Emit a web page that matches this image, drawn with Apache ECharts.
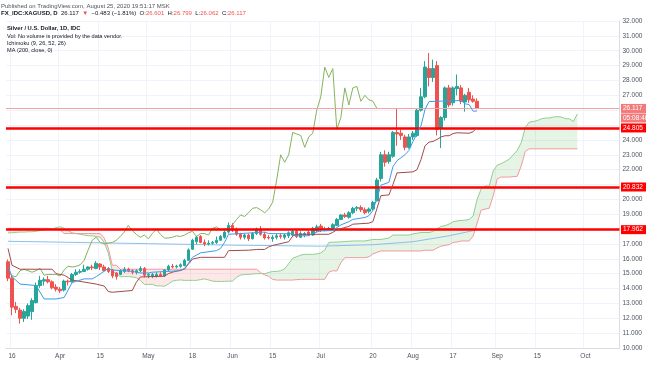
<!DOCTYPE html>
<html><head><meta charset="utf-8">
<script src="https://cdn.jsdelivr.net/npm/echarts@6/dist/echarts.min.js"></script>
<style>html,body{margin:0;padding:0;background:#fff;overflow:hidden}#c{width:654px;height:366px}</style>
</head><body><div id="c"></div>
<script>
// ---------- categories (trading days, 2020) ----------
const tradingDays = [
  ['03',[13,16,17,18,19,20,23,24,25,26,27,30,31]],
  ['04',[1,2,3,6,7,8,9,10,13,14,15,16,17,20,21,22,23,24,27,28,29,30]],
  ['05',[1,4,5,6,7,8,11,12,13,14,15,18,19,20,21,22,25,26,27,28,29]],
  ['06',[1,2,3,4,5,8,9,10,11,12,15,16,17,18,19,22,23,24,25,26,29,30]],
  ['07',[1,2,3,6,7,8,9,10,13,14,15,16,17,20,21,22,23,24,27,28,29,30,31]],
  ['08',[3,4,5,6,7,10,11,12,13,14,17,18,19,20,21,24,25,26,27,28,31]],
  ['09',[1,2,3,4,7,8,9,10,11,14,15,16,17,18,21,22,23,24,25,28,29,30]],
  ['10',[1,2,5,6,7,8,9,12,13]]
];
const xTicks = [['03-16','16'],['04-01','Apr'],['04-15','15'],['05-01','May'],['05-18','18'],['06-01','Jun'],['06-15','15'],['07-01','Jul'],['07-20','20'],['08-03','Aug'],['08-17','17'],['09-01','Sep'],['09-15','15'],['10-01','Oct']];
const yMin = 10, yMax = 32, yStep = 1;
const yHiddenLabels = [18, 21, 25, 26];

// ---------- OHLC from 13 Mar to 25 Aug ----------
const opens = [15.8,
 14.7,12.8,12.55,12.0,12.15, 12.45,13.05,14.2,14.5,14.6, 14.45,14.1,13.95,13.9,14.5, 14.45,14.95,15.1,15.15,15.3,
 15.45,15.35,15.65,15.45,15.35, 15.25,15.05,14.95,15.15,15.3, 15.2,15.1,15.2,15.35,14.9, 14.85,14.8,14.95,14.85,15.25,
 15.5,15.45,15.5,15.55,15.9, 16.65,17.15,17.5,17.1,17.0, 17.05,17.1,17.25,17.45,17.8, 18.25,17.95,17.65,17.45,17.6,
 17.35,17.7,18.0,17.65,17.45, 17.35,17.45,17.55,17.45,17.55, 17.6,17.85,17.45,17.6,17.8, 17.6,17.9,18.2,17.95,18.0,
 18.05,18.25,18.65,18.95,18.8, 19.1,19.4,19.45,19.3,19.2, 19.35,19.9,21.4,23.0,22.55, 22.9,24.5,24.45,24.2,23.5,
 24.2,24.3,26.0,26.9,28.8, 28.2,29.0,24.8,25.5,27.5, 26.5,27.45,27.5,26.55,27.2, 26.75,26.601];
const highs = [15.95,
 14.85,13.1,12.7,12.6,13.0, 13.35,14.4,14.85,14.75,14.85, 14.55,14.3,14.1,14.6,14.6, 15.05,15.3,15.3,15.6,15.5,
 15.6,15.85,15.7,15.6,15.45, 15.3,15.1,15.3,15.45,15.4, 15.3,15.3,15.5,15.45,15.05, 15.05,15.1,15.1,15.3,15.6,
 15.65,15.6,15.7,16.0,16.7, 17.35,17.55,17.6,17.3,17.25, 17.2,17.5,17.6,17.9,18.45, 18.4,18.1,17.75,17.7,17.7,
 17.8,18.1,18.2,17.8,17.6, 17.6,17.7,17.7,17.7,17.85, 17.95,17.95,17.85,17.8,17.9, 18.15,18.3,18.35,18.15,18.15,
 18.4,18.75,19.0,19.1,19.2, 19.5,19.55,19.6,19.45,19.45, 19.9,21.45,23.2,23.3,23.2, 24.6,26.15,24.7,24.35,24.4,
 24.6,26.15,27.5,29.3,29.85, 29.4,29.3,25.6,27.6,27.7, 27.6,28.4,27.7,27.1,27.5, 27.0,26.799];
const lows = [14.5,
 12.2,12.35,11.64,11.75,11.95, 11.9,13.0,14.05,14.2,14.35, 13.95,13.8,13.7,13.8,14.2, 14.4,14.85,15.0,15.1,15.2,
 15.25,15.3,15.25,15.2,15.05, 14.7,14.6,14.9,15.05,15.1, 14.95,14.95,15.1,14.75,14.7, 14.7,14.75,14.8,14.8,15.15,
 15.35,15.35,15.4,15.5,15.85, 16.6,17.0,17.05,16.85,16.9, 16.95,17.0,17.2,17.35,17.7, 17.8,17.55,17.3,17.3,17.2,
 17.3,17.6,17.55,17.3,17.3, 17.15,17.3,17.35,17.3,17.4, 17.5,17.4,17.4,17.45,17.55, 17.55,17.8,17.8,17.85,17.9,
 17.95,18.2,18.6,18.75,18.7, 19.0,19.2,19.15,19.0,19.05, 19.25,19.85,21.2,22.2,22.4, 22.8,23.6,24.0,23.3,23.4,
 24.0,24.2,25.9,26.8,27.6, 27.9,24.3,23.45,25.3,26.2, 26.3,27.0,26.4,25.9,26.5, 26.5,26.062];
const closes = [14.7,
 12.75,12.6,12.0,12.45,12.85, 13.2,14.2,14.55,14.6,14.45, 14.05,13.95,13.85,14.5,14.45, 14.95,15.1,15.15,15.3,15.45,
 15.4,15.7,15.45,15.2,15.15, 14.85,14.8,15.2,15.3,15.2, 15.1,15.2,15.35,14.9,14.95, 14.95,14.95,14.85,15.25,15.5,
 15.45,15.5,15.6,15.9,16.6, 17.25,17.45,17.1,17.0,17.05, 17.1,17.25,17.5,17.8,18.25, 17.9,17.65,17.45,17.6,17.35,
 17.7,18.0,17.65,17.4,17.4, 17.45,17.55,17.5,17.6,17.75, 17.85,17.5,17.7,17.7,17.6, 18.05,18.15,17.95,18.0,18.05,
 18.3,18.65,18.95,18.85,19.1, 19.4,19.45,19.3,19.1,19.35, 19.8,21.3,23.0,22.5,23.0, 24.5,24.4,24.3,23.5,24.2,
 24.45,26.0,26.9,28.9,28.2, 28.8,24.7,25.5,27.5,26.35, 27.5,27.6,26.6,27.0,26.7, 26.6,26.117];

// ---------- Ichimoku (9, 26, 52, 26) and MA 200 ----------
const tenkan = [['03-13',15.5],['03-16',14.8],['03-18',14.3],['03-24',14.2],['03-26',13.3],['03-31',13.3],['04-02',13.4],['04-03',13.9],['04-06',14.4],['04-09',14.65],['04-13',14.65],['04-14',14.8],['04-17',15.35],['04-20',15.25],['04-27',15.15],['04-29',15.05],['05-01',15.05],['05-04',15.1],['05-13',15.2],['05-14',15.35],['05-15',15.7],['05-18',16.1],['05-20',16.4],['05-26',16.55],['05-27',16.7],['05-28',17.1],['05-29',17.65],['06-11',17.8],['06-12',17.7],['06-22',17.68],['06-23',17.55],['06-26',17.55],['06-29',17.72],['07-01',17.88],['07-06',17.9],['07-07',18.1],['07-08',18.28],['07-10',18.5],['07-13',18.65],['07-16',18.78],['07-17',18.9],['07-20',19.25],['07-21',20.08],['07-22',20.95],['07-24',21.15],['07-27',22.2],['07-28',22.6],['07-30',23.0],['07-31',23.3],['08-03',23.9],['08-04',24.4],['08-05',24.95],['08-06',26.05],['08-07',26.58],['08-19',26.65],['08-20',26.43],['08-21',26.38],['08-24',25.93],['08-25',25.95]];
const kijun = [['03-13',16.7],['03-16',15.57],['03-18',15.3],['03-30',15.3],['03-31',15.0],['04-02',14.9],['04-06',14.57],['04-14',14.3],['04-16',14.17],['04-17',13.8],['04-20',13.75],['04-27',13.87],['04-28',14.42],['04-29',14.78],['05-07',14.83],['05-08',15.0],['05-11',15.1],['05-14',15.3],['05-15',15.65],['05-18',15.98],['05-20',16.1],['05-28',16.1],['05-29',16.55],['06-05',16.58],['06-09',16.63],['06-11',16.63],['06-12',16.8],['06-15',16.9],['06-19',17.15],['06-22',17.53],['06-23',17.65],['07-03',17.65],['07-06',17.78],['07-07',17.95],['07-10',18.18],['07-13',18.33],['07-17',18.4],['07-20',18.5],['07-21',19.38],['07-22',20.25],['07-24',20.3],['07-27',21.0],['07-28',21.78],['08-03',21.85],['08-04',22.0],['08-05',22.68],['08-06',23.6],['08-07',23.85],['08-10',23.9],['08-11',24.03],['08-12',24.2],['08-13',24.28],['08-14',24.28],['08-17',24.43],['08-18',24.48],['08-21',24.45],['08-24',24.55],['08-25',24.85]];
// lagging span, from 13 Mar onward
const chikou = [15.15,
 14.85,14.8,15.2,15.3,15.2, 15.1,15.2,15.35,14.9,14.95, 14.95,14.95,14.85,15.25,15.5, 15.45,15.5,15.6,15.9,16.6,
 17.25,17.45,17.1,17.0,17.05, 17.1,17.25,17.5,17.8,18.25, 17.9,17.65,17.45,17.6,17.35, 17.7,18.0,17.65,17.4,17.4,
 17.45,17.55,17.5,17.6,17.75, 17.85,17.5,17.7,17.7,17.6, 18.05,18.15,17.95,18.0,18.05, 18.3,18.65,18.95,18.85,19.1,
 19.4,19.45,19.3,19.1,19.35, 19.8,21.3,23.0,22.5,23.0, 24.5,24.4,24.3,23.5,24.2, 24.45,26.0,26.9,28.9,28.2,
 28.8,24.7,25.5,27.5,26.35, 27.5,27.6,26.6,27.0,26.7, 26.6,26.117];
// leading spans, from 13 Mar onward (one value per bar)
const spanA = [17.75,
 17.75,17.78,17.8,17.8,17.82, 17.82,17.85,17.9,17.95,17.98, 18.0,18.1,18.15,18.05,17.9, 17.75,17.7,17.65,17.6,17.55,
 17.55,17.5,17.45,17.1,16.4, 15.2,15.0,14.8,14.8,14.8, 14.78,14.73,14.55,14.28,14.28, 14.28,14.18,14.18,14.15,14.3,
 14.5,14.55,14.58,14.55,14.55, 14.55,14.55,14.6,14.65,14.58, 14.5,14.48,14.48,14.48,14.5, 14.5,14.76,14.9,14.95,14.95,
 14.98,15.0,15.0,15.0,15.08, 15.15,15.15,15.2,15.33,15.68, 16.04,16.14,16.25,16.3,16.3, 16.3,16.33,16.4,16.6,17.1,
 17.12,17.13,17.14,17.16,17.18, 17.2,17.2,17.2,17.2,17.25, 17.3,17.3,17.3,17.35,17.4, 17.6,17.6,17.6,17.6,17.6,
 17.68,17.72,17.77,17.77,17.77, 17.84,18.03,18.18,18.23,18.34, 18.49,18.55,18.58,18.6,18.65, 18.88,20.0,20.7,20.9,20.9,
 21.9,22.3,22.4,22.55,22.7, 23.0,23.3,23.82,24.83,25.2, 25.24,25.3,25.42,25.47,25.47, 25.54,25.57,25.54,25.43,25.42,
 25.24,25.75];
const spanB = [18.05,
 18.05,18.05,18.05,18.05,18.05, 18.05,18.05,18.05,18.05,18.05, 18.0,18.0,17.95,17.7,17.7, 17.7,17.7,17.7,17.7,17.7,
 17.7,17.7,17.7,17.4,16.73, 15.57,15.57,15.3,15.3,15.3, 15.3,15.3,15.3,15.3,15.3, 15.3,15.3,15.3,15.3,15.3,
 15.3,15.3,15.3,15.3,15.3, 15.3,15.3,15.3,15.3,15.3, 15.3,15.3,15.3,15.3,15.3, 15.3,15.3,15.3,15.3,15.3,
 15.3,15.3,15.07,14.92,14.82, 14.62,14.57,14.57,14.57,14.57, 14.57,14.6,14.62,14.62,14.62, 14.62,14.62,14.62,14.62,15.1,
 15.2,15.18,15.73,16.08,16.08, 16.08,16.08,16.08,16.08,16.13, 16.33,16.43,16.53,16.53,16.53, 16.53,16.53,16.53,16.53,16.53,
 16.53,16.53,16.53,16.58,16.58, 16.58,16.73,16.85,16.9,16.95, 17.1,17.13,17.2,17.2,17.2, 17.53,18.4,19.28,19.35,19.4,
 20.23,21.38,21.5,21.5,21.5, 21.53,21.55,22.25,23.23,23.4, 23.4,23.4,23.4,23.4,23.4, 23.4,23.4,23.4,23.4,23.4,
 23.4,23.4];
const ma200 = [['03-13',17.18],['04-01',17.12],['05-01',17.02],['06-01',16.92],['07-01',16.85],['07-20',16.95],['08-03',17.15],['08-14',17.55],['08-25',17.95]];

// horizontal levels and last price
const levels = [24.805, 20.832, 17.962];
const lastPrice = 26.117;
const countdown = '05:08:46';

// ---------- build ----------
const cats = [];
tradingDays.forEach(([m, ds]) => ds.forEach(d => cats.push('2020-' + m + '-' + String(d).padStart(2, '0'))));
const tickMap = {};
xTicks.forEach(([d, l]) => { tickMap['2020-' + d] = l; });
const pair = arr => arr.map(([d, v]) => ['2020-' + d, v]);
const candleData = opens.map((o, k) => [o, closes[k], lows[k], highs[k]]);
const cloudData = [];
for (let k = 0; k < spanA.length - 1; k++) cloudData.push([k, spanA[k], spanB[k], spanA[k + 1], spanB[k + 1]]);

const FONT = '"Liberation Sans", Arial, sans-serif';
const G = 'rgba(76,175,80,0.14)', R = 'rgba(244,67,54,0.12)';

function cloudItem(params, api) {
  const k = api.value(0), a0 = api.value(1), b0 = api.value(2), a1 = api.value(3), b1 = api.value(4);
  const pa0 = api.coord([k, a0]), pb0 = api.coord([k, b0]), pa1 = api.coord([k + 1, a1]), pb1 = api.coord([k + 1, b1]);
  const d0 = a0 - b0, d1 = a1 - b1;
  if (d0 * d1 >= 0) {
    return { type: 'polygon', shape: { points: [pa0, pa1, pb1, pb0] }, style: { fill: (d0 + d1) >= 0 ? G : R } };
  }
  const t = d0 / (d0 - d1);
  const px = pa0[0] + (pa1[0] - pa0[0]) * t, py = pa0[1] + (pa1[1] - pa0[1]) * t;
  return { type: 'group', children: [
    { type: 'polygon', shape: { points: [pa0, [px, py], pb0] }, style: { fill: d0 > 0 ? G : R } },
    { type: 'polygon', shape: { points: [[px, py], pa1, pb1] }, style: { fill: d1 > 0 ? G : R } }
  ] };
}

const lineS = (name, data, color, z) => ({ name, type: 'line', data, symbol: 'none', showSymbol: false, silent: true,
  lineStyle: { color, width: 1 }, z, animation: false, connectNulls: false });

const chart = echarts.init(document.getElementById('c'));
const option = {
  animation: false,
  backgroundColor: '#ffffff',
  textStyle: { fontFamily: FONT },
  grid: { left: 6, right: 34.5, top: 21, bottom: 18, containLabel: false },
  xAxis: {
    type: 'category', data: cats, boundaryGap: true,
    axisLine: { show: true, lineStyle: { color: '#d9dce3' } },
    axisTick: { show: false },
    axisLabel: { interval: (i, v) => tickMap[v] !== undefined, formatter: v => tickMap[v] || '',
      fontSize: 6.5, color: '#4c525e', margin: 5, fontFamily: FONT },
    splitLine: { show: true, interval: (i, v) => tickMap[v] !== undefined, lineStyle: { color: '#f0f3fa', width: 1 } }
  },
  yAxis: {
    type: 'value', position: 'right', min: yMin, max: yMax, interval: yStep, scale: true,
    axisLine: { show: true, lineStyle: { color: '#d9dce3' } },
    axisTick: { show: false },
    axisLabel: { fontSize: 6.5, color: '#4c525e', margin: 3, fontFamily: FONT,
      formatter: v => yHiddenLabels.indexOf(v) >= 0 ? '' : v.toFixed(3) },
    splitLine: { show: true, lineStyle: { color: '#f0f3fa', width: 1 } }
  },
  series: [
    { name: 'cloud', type: 'custom', renderItem: cloudItem, data: cloudData, encode: { x: 0, y: [1, 2] }, z: 1, silent: true, clip: true },
    lineS('Lead 1', spanA, '#8fcf8f', 2),
    lineS('Lead 2', spanB, '#f29a9a', 2),
    lineS('MA', pair(ma200), '#8cbfe8', 3),
    lineS('Lagging', chikou, '#86b35e', 3),
    {
      name: 'XAGUSD', type: 'candlestick', data: candleData, barWidth: 3, z: 4, silent: true,
      itemStyle: { color: '#26a69a', color0: '#ef5350', borderColor: '#26a69a', borderColor0: '#ef5350', borderWidth: 1 },
      markLine: {
        silent: true, symbol: ['none', 'none'], label: { show: false }, animation: false,
        data: [
          { yAxis: lastPrice, lineStyle: { color: '#f4a3a3', width: 1, type: 'solid' } },
          ...levels.map(v => ({ yAxis: v, lineStyle: { color: '#ff0000', width: 2.6, type: 'solid' } }))
        ]
      }
    },
    lineS('Base', pair(kijun), '#a34a4a', 5),
    lineS('Conversion', pair(tenkan), '#3d9be9', 5)
  ]
};
chart.setOption(option);

// ---------- texts and price tags ----------
const gfx = [];
const txt = (x, y, text, size, fill, weight) => ({ type: 'text', x, y, z: 50, style: { text, fill, fontSize: size, fontWeight: weight || 'normal', fontFamily: FONT, verticalAlign: 'middle', textVerticalAlign: 'middle' } });
gfx.push(txt(1, 6, 'Published on TradingView.com, August 25, 2020 19:51:17 MSK', 6, '#50535e'));
gfx.push({ type: 'text', x: 1, y: 13.5, z: 50, style: {
  text: '{b|FX_IDC:XAGUSD, D} {n|26.117} {r|▼} {n|−0.483 (−1.81%)} {n|O:}{r|26.601} {n|H:}{r|26.799} {n|L:}{r|26.062} {n|C:}{r|26.117}',
  verticalAlign: 'middle', textVerticalAlign: 'middle',
  rich: { b: { fontSize: 6, fontWeight: 'bold', fill: '#131722', color: '#131722', fontFamily: FONT },
          n: { fontSize: 6, fill: '#131722', color: '#131722', fontFamily: FONT },
          r: { fontSize: 6, fill: '#ef5350', color: '#ef5350', fontFamily: FONT } } } });
gfx.push(txt(7, 28.5, 'Silver / U.S. Dollar, 1D, IDC', 5.8, '#131722', 'bold'));
gfx.push(txt(7, 36, 'Vol: No volume is provided by the data vendor.', 5.6, '#131722'));
gfx.push(txt(7, 43.3, 'Ichimoku (9, 26, 52, 26)', 5.6, '#131722'));
gfx.push(txt(7, 50.6, 'MA (200, close, 0)', 5.6, '#131722'));

const tag = (y, text, bg) => {
  gfx.push({ type: 'rect', z: 60, shape: { x: 621, y: y - 4.5, width: 25, height: 9 }, style: { fill: bg } });
  gfx.push({ type: 'text', x: 623, y: y, z: 61, style: { text, fill: '#ffffff', fontSize: 6.5, fontFamily: FONT, verticalAlign: 'middle', textVerticalAlign: 'middle' } });
};
const yLast = chart.convertToPixel({ yAxisIndex: 0 }, lastPrice);
tag(yLast, lastPrice.toFixed(3), '#f27a7a');
tag(yLast + 9.5, countdown, '#f27a7a');
levels.forEach(v => tag(chart.convertToPixel({ yAxisIndex: 0 }, v), v.toFixed(3), '#ff0000'));
chart.setOption({ graphic: { elements: gfx } });
</script>
</body></html>
